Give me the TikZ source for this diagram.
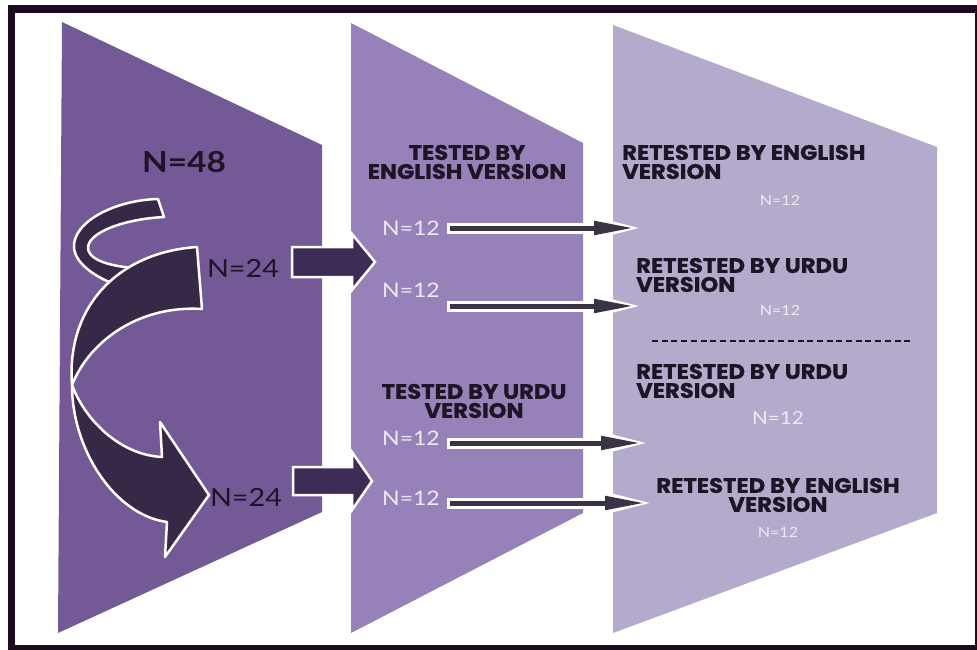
\documentclass[tikz,border=0pt]{standalone}
\usepackage{fontspec}
\setmainfont{Lato}
\newfontfamily\headfont{Poppins}[FakeStretch=1.08, BoldFeatures={FakeBold=0.8}]
\newfontfamily\numfont{Lato}[FakeStretch=1.15]
\usetikzlibrary{arrows.meta}

\definecolor{frameink}{HTML}{1C0B1E}
\definecolor{panelA}{HTML}{735A97}
\definecolor{panelB}{HTML}{9682B8}
\definecolor{panelC}{HTML}{B4AACC}
\definecolor{ribbon}{HTML}{372847}
\definecolor{ink}{HTML}{1E1426}
\definecolor{pale}{HTML}{EEEAF4}
\definecolor{barfill}{HTML}{3D2C56}
\definecolor{shaft}{HTML}{3A3346}

\begin{document}
\begin{tikzpicture}[x=1pt,y=-1pt,
  ribbonpart/.style={fill=ribbon, draw=white, line width=2.5pt, line join=round},
  bigarrow/.style={fill=barfill, draw=white, line width=2.5pt, line join=miter},
  shaftout/.style={white, line width=11pt, -{Triangle[length=58pt,width=22pt]}},
  shaftin/.style={shaft, line width=5pt, -{Triangle[length=40pt,width=13pt]}},
  headtxt/.style={font=\headfont\bfseries\fontsize{21}{19}\selectfont, text=ink, inner sep=0pt},
  bignum/.style={font=\numfont\bfseries\fontsize{29}{29}\selectfont, text=ink, inner sep=0pt},
  midnum/.style={font=\numfont\fontsize{25}{25}\selectfont, text=ink, inner sep=0pt},
  paleA/.style={font=\numfont\fontsize{20}{20}\selectfont, text=pale, inner sep=0pt, anchor=west},
  paleB/.style={font=\numfont\fontsize{14}{14}\selectfont, text=pale, inner sep=0pt}
]
\useasboundingbox (0,0) rectangle (977,650);

% frame
\fill[white] (0,0) rectangle (977,650);
\fill[frameink] (8,5) rectangle (977,650);
\fill[white] (15,13) rectangle (975,645);

% three stage panels
\fill[panelA] (62,22) -- (322,145) -- (322,512) -- (58,633) -- cycle;
\fill[panelB] (351,23) -- (583,143) -- (583,513) -- (351,633) -- cycle;
\fill[panelC] (613,25) -- (937,147) -- (937,513) -- (613,633) -- cycle;

% twisted split ribbon: back loop
\draw[ribbonpart] (158,199) .. controls (115,200) and (72,222) .. (74,248)
  .. controls (76,266) and (100,280) .. (125,288) -- (135,268)
  .. controls (105,266) and (88,258) .. (88,248)
  .. controls (88,232) and (125,219) .. (164,217) -- cycle;
% lower half with arrow head
\draw[ribbonpart] (72,385) .. controls (72,450) and (115,515) .. (167,522)
  -- (165,557) -- (209,495) -- (160,422) -- (162,457)
  .. controls (120,455) and (85,420) .. (72,385) -- cycle;
% upper half
\draw[ribbonpart] (197,247) .. controls (120,252) and (66,305) .. (72,385)
  .. controls (90,340) and (140,305) .. (202,309) -- cycle;

% labels, left panel
\node[bignum] (n48) at (184,162) {N=48};
\node[midnum] (n24a) at (243,268) {N=24};
\node[midnum] (n24b) at (246,497) {N=24};

% block arrows into the second panel
\coordinate (ua) at (292,262);
\coordinate (ub) at (293,481);
\draw[bigarrow, shift={(ua)}] (0,-15) -- (60,-15) -- (60,-28) -- (83,0) -- (60,28) -- (60,15) -- (0,15) -- cycle;
\draw[bigarrow, shift={(ub)}] (0,-14) -- (59,-14) -- (59,-29) -- (79,0) -- (59,29) -- (59,14) -- (0,14) -- cycle;

% second panel
\node[headtxt, align=center] (te) at (467,162) {TESTED BY\\ENGLISH VERSION};
\node[headtxt, align=center] (tu) at (474,401) {TESTED BY URDU\\VERSION};
\node[paleA] (m1) at (382,228) {N=12};
\node[paleA] (m2) at (382,290) {N=12};
\node[paleA] (m3) at (382,438) {N=12};
\node[paleA] (m4) at (382,498) {N=12};

% thin arrows into the third panel
\coordinate (s1) at (447,228); \coordinate (e1) at (646,228);
\coordinate (s2) at (447,306); \coordinate (e2) at (646,306);
\coordinate (s3) at (447,443); \coordinate (e3) at (653,443);
\coordinate (s4) at (447,503); \coordinate (e4) at (657,503);
\foreach \i in {1,2,3,4}{
  \draw[shaftout] (s\i) -- (e\i);
  \draw[shaftin] ([xshift=3pt]s\i) -- ([xshift=-12pt]e\i);
}

% third panel
\node[headtxt, align=left, anchor=west] (r1) at (622,162) {RETESTED BY ENGLISH\\VERSION};
\node[paleB] (q1) at (780,200) {N=12};
\node[headtxt, align=left, anchor=west] (r2) at (636,275) {RETESTED BY URDU\\VERSION};
\node[paleB] (q2) at (780,310) {N=12};
\coordinate (dl) at (652,341); \coordinate (dr) at (913,341);
\draw[ink, line width=2.5pt, dash pattern=on 6pt off 3.7pt] (dl) -- (dr);
\node[headtxt, align=left, anchor=west] (r3) at (636,381) {RETESTED BY URDU\\VERSION};
\node[paleB, font=\numfont\fontsize{18}{18}\selectfont] (q3) at (778,418) {N=12};
\node[headtxt, align=center] (r4) at (778,495) {RETESTED BY ENGLISH\\VERSION};
\node[paleB] (q4) at (778,532) {N=12};
\end{tikzpicture}
\end{document}
